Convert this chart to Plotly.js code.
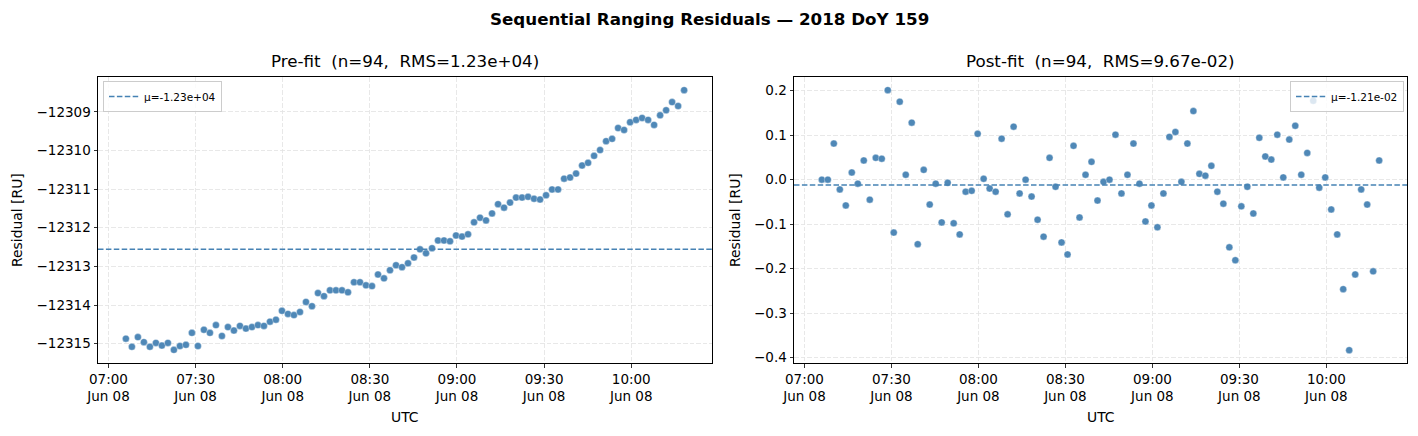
<!DOCTYPE html>
<html>
<head>
<meta charset="utf-8">
<script src="https://cdn.plot.ly/plotly-3.0.1.min.js"></script>
<style>
  html, body { margin: 0; padding: 0; background: #fff; }
  #chart { width: 1418px; height: 436px; }
</style>
</head>
<body>
<div id="chart"></div>
<script>
// Pass date (2018 DoY 159) and epoch times of the ranging measurements (UTC)
const passDate = "2018-06-08";
const epochs = [
  "07:06:00","07:08:04","07:10:08","07:12:12","07:14:16","07:16:20","07:18:24","07:20:28","07:22:32","07:24:36",
  "07:26:40","07:28:44","07:30:48","07:32:52","07:34:56","07:37:00","07:39:04","07:41:08","07:43:12","07:45:16",
  "07:47:20","07:49:24","07:51:28","07:53:32","07:55:36","07:57:40","07:59:44","08:01:48","08:03:52","08:05:56",
  "08:08:00","08:10:04","08:12:08","08:14:12","08:16:16","08:18:20","08:20:24","08:22:28","08:24:32","08:26:36",
  "08:28:40","08:30:44","08:32:48","08:34:52","08:36:56","08:39:00","08:41:04","08:43:08","08:45:12","08:47:16",
  "08:49:20","08:51:24","08:53:28","08:55:32","08:57:36","08:59:40","09:01:44","09:03:48","09:05:52","09:07:56",
  "09:10:00","09:12:04","09:14:08","09:16:12","09:18:16","09:20:20","09:22:24","09:24:28","09:26:32","09:28:36",
  "09:30:40","09:32:44","09:34:48","09:36:52","09:38:56","09:41:00","09:43:04","09:45:08","09:47:12","09:49:16",
  "09:51:20","09:53:24","09:55:28","09:57:32","09:59:36","10:01:40","10:03:44","10:05:48","10:07:52","10:09:56",
  "10:12:00","10:14:04","10:16:08","10:18:12"
];

// Pre-fit residuals [RU]
const preFit = [
  -12314.87,-12315.08,-12314.83,-12314.96,-12315.08,-12314.98,-12315.05,-12314.98,-12315.16,-12315.06,
  -12315.03,-12314.72,-12315.06,-12314.64,-12314.72,-12314.52,-12314.80,-12314.57,-12314.66,-12314.54,
  -12314.61,-12314.57,-12314.52,-12314.54,-12314.43,-12314.38,-12314.15,-12314.23,-12314.26,-12314.18,
  -12313.92,-12314.03,-12313.69,-12313.77,-12313.62,-12313.62,-12313.62,-12313.67,-12313.41,-12313.41,
  -12313.49,-12313.51,-12313.21,-12313.31,-12313.10,-12312.97,-12313.02,-12312.92,-12312.77,-12312.56,
  -12312.66,-12312.53,-12312.33,-12312.33,-12312.35,-12312.20,-12312.23,-12312.17,-12311.86,-12311.74,
  -12311.81,-12311.63,-12311.39,-12311.48,-12311.35,-12311.22,-12311.22,-12311.20,-12311.25,-12311.27,
  -12311.16,-12311.01,-12311.01,-12310.73,-12310.70,-12310.60,-12310.39,-12310.32,-12310.14,-12309.99,
  -12309.76,-12309.70,-12309.42,-12309.47,-12309.27,-12309.21,-12309.16,-12309.21,-12309.34,-12309.09,
  -12308.96,-12308.75,-12308.85,-12308.44
];

// Post-fit residuals [RU]
const postFit = [
  0.000, 0.000, 0.081,-0.022,-0.058, 0.016,-0.009, 0.043,-0.045, 0.049,
  0.047, 0.201,-0.119, 0.175, 0.011, 0.128,-0.145, 0.022,-0.056,-0.009,
 -0.096,-0.007,-0.098,-0.123,-0.027,-0.025, 0.103, 0.002,-0.020,-0.027,
  0.092,-0.078, 0.119,-0.031, 0.000,-0.038,-0.090,-0.128, 0.049,-0.016,
 -0.141,-0.168, 0.076,-0.085, 0.011, 0.040,-0.047,-0.005, 0.000, 0.101,
 -0.031, 0.011, 0.081,-0.009,-0.094,-0.058,-0.107,-0.031, 0.096, 0.107,
 -0.005, 0.081, 0.154, 0.013, 0.009, 0.031,-0.027,-0.054,-0.152,-0.181,
 -0.060,-0.016,-0.076, 0.094, 0.052, 0.045, 0.101, 0.005, 0.090, 0.121,
  0.011, 0.060, 0.177,-0.018, 0.005,-0.067,-0.123,-0.246,-0.383,-0.213,
 -0.022,-0.056,-0.206, 0.043
];

// Summary statistics of each residual set
const nObs = 94;
const preMean = -12312.56, preRMS = 1.23e4;
const postMean = -0.0121, postRMS = 9.67e-2;

// Axis extents
const xRange = [passDate + " 06:56:24", passDate + " 10:27:48"];
const preRange = [-12315.50, -12308.10];
const postRange = [-0.4118, 0.2305];

// Scientific notation with a two-digit exponent, e.g. 1.23e+04
function sci(v) {
  const s = v.toExponential(2);
  return s.replace(/e([+-])(\d)$/, "e$10$2");
}

const W = 1418, H = 436;
const px = x => x / W;
const py = y => 1 - y / H;

const times = epochs.map(t => passDate + " " + t);
const dotColor = "#4682B4";
const FONT = "DejaVu Sans, sans-serif";

const marker = { color: dotColor, size: 7, opacity: 0.95,
                 line: { color: "rgba(255,255,255,0.7)", width: 0.5 } };

const traces = [
  { type: "scatter", mode: "markers", x: times, y: preFit, xaxis: "x", yaxis: "y",
    marker: marker, showlegend: false, hoverinfo: "x+y" },
  { type: "scatter", mode: "lines", x: xRange, y: [preMean, preMean], xaxis: "x", yaxis: "y",
    line: { color: dotColor, width: 1.5, dash: "5.5px,2.4px" },
    name: "\u03bc=" + sci(preMean), legend: "legend", showlegend: true },
  { type: "scatter", mode: "markers", x: times, y: postFit, xaxis: "x2", yaxis: "y2",
    marker: marker, showlegend: false, hoverinfo: "x+y" },
  { type: "scatter", mode: "lines", x: xRange, y: [postMean, postMean], xaxis: "x2", yaxis: "y2",
    line: { color: dotColor, width: 1.5, dash: "5.5px,2.4px" },
    name: "\u03bc=" + sci(postMean), legend: "legend2", showlegend: true }
];

const xCommon = {
  type: "date", range: xRange,
  tick0: passDate + " 07:00", dtick: 30 * 60 * 1000,
  tickformat: "%H:%M<br>%b %d",
  ticks: "outside", ticklen: 3.5, tickwidth: 0.8, tickcolor: "#000",
  tickfont: { family: FONT, size: 13.5, color: "#000" },
  showline: true, mirror: true, linecolor: "#000", linewidth: 1,
  showgrid: true, gridcolor: "#e2e2e2", gridwidth: 0.8, griddash: "4.5px,2px",
  zeroline: false, fixedrange: true
};
const yCommon = {
  ticks: "outside", ticklen: 3.5, tickwidth: 0.8, tickcolor: "#000",
  tickfont: { family: FONT, size: 13.5, color: "#000" },
  showline: true, mirror: true, linecolor: "#000", linewidth: 1,
  showgrid: true, gridcolor: "#e2e2e2", gridwidth: 0.8, griddash: "4.5px,2px",
  zeroline: false, fixedrange: true
};

const legendCommon = {
  bgcolor: "rgba(255,255,255,0.8)", bordercolor: "#cccccc", borderwidth: 1,
  font: { family: FONT, size: 10.5, color: "#000" },
  itemwidth: 30, tracegroupgap: 0, yanchor: "top", y: py(81)
};

const titleFont = { family: FONT, size: 16.7, color: "#000" };
const labelFont = { family: FONT, size: 13.9, color: "#000" };

const layout = {
  width: W, height: H,
  margin: { l: 0, r: 0, t: 0, b: 0 },
  paper_bgcolor: "#fff", plot_bgcolor: "#fff",
  font: { family: FONT },
  showlegend: true,
  xaxis: Object.assign({}, xCommon, { domain: [px(98), px(712)], anchor: "y" }),
  yaxis: Object.assign({}, yCommon, { domain: [py(363), py(77)], anchor: "x",
                                      range: preRange, dtick: 1, tickformat: "d" }),
  xaxis2: Object.assign({}, xCommon, { domain: [px(794), px(1407)], anchor: "y2" }),
  yaxis2: Object.assign({}, yCommon, { domain: [py(363), py(77)], anchor: "x2",
                                       range: postRange, dtick: 0.1, tick0: 0, tickformat: ".1f" }),
  legend: Object.assign({}, legendCommon, { x: px(103), xanchor: "left" }),
  legend2: Object.assign({}, legendCommon, { x: px(1404), xanchor: "right" }),
  annotations: [
    { text: "<b>Sequential Ranging Residuals \u2014 2018 DoY 159</b>", xref: "paper", yref: "paper",
      x: 0.5, y: py(19), xanchor: "center", yanchor: "middle", showarrow: false,
      font: { family: FONT, size: 16.7, color: "#000" } },
    { text: "Pre-fit \u00a0(n=" + nObs + ", \u00a0RMS=" + sci(preRMS) + ")", xref: "paper", yref: "paper",
      x: px(405), y: py(61), xanchor: "center", yanchor: "middle", showarrow: false, font: titleFont },
    { text: "Post-fit \u00a0(n=" + nObs + ", \u00a0RMS=" + sci(postRMS) + ")", xref: "paper", yref: "paper",
      x: px(1100.5), y: py(61), xanchor: "center", yanchor: "middle", showarrow: false, font: titleFont },
    { text: "UTC", xref: "paper", yref: "paper", x: px(405), y: py(417),
      xanchor: "center", yanchor: "middle", showarrow: false, font: labelFont },
    { text: "UTC", xref: "paper", yref: "paper", x: px(1100.5), y: py(417),
      xanchor: "center", yanchor: "middle", showarrow: false, font: labelFont },
    { text: "Residual [RU]", xref: "paper", yref: "paper", x: px(17), y: py(220),
      xanchor: "center", yanchor: "middle", textangle: -90, showarrow: false, font: labelFont },
    { text: "Residual [RU]", xref: "paper", yref: "paper", x: px(735), y: py(220),
      xanchor: "center", yanchor: "middle", textangle: -90, showarrow: false, font: labelFont }
  ]
};

Plotly.newPlot("chart", traces, layout, { staticPlot: true, displayModeBar: false });
</script>
</body>
</html>
